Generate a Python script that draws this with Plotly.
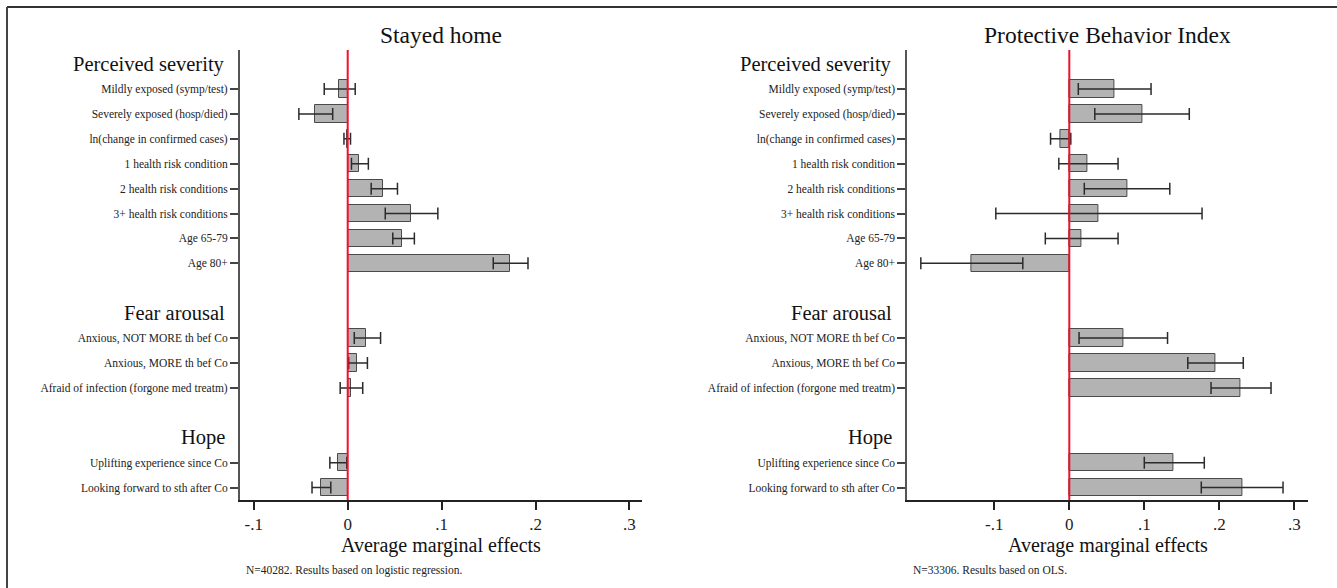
import plotly.graph_objects as go

# ---- data -------------------------------------------------------------
groups = ["Perceived severity", "Fear arousal", "Hope"]
group_items = [
    ["Mildly exposed (symp/test)", "Severely exposed (hosp/died)",
     "ln(change in confirmed cases)", "1 health risk condition",
     "2 health risk conditions", "3+ health risk conditions",
     "Age 65-79", "Age 80+"],
    ["Anxious, NOT MORE th bef Co", "Anxious, MORE th bef Co",
     "Afraid of infection (forgone med treatm)"],
    ["Uplifting experience since Co", "Looking forward to sth after Co"],
]

# Stayed home (logistic regression, average marginal effects)
home_ame = [-0.009, -0.035, -0.001, 0.012, 0.038, 0.067, 0.058, 0.173,
            0.020, 0.010, 0.004,
            -0.010, -0.028]
home_lo = [-0.025, -0.052, -0.004, 0.004, 0.025, 0.040, 0.048, 0.155,
           0.007, 0.001, -0.008,
           -0.019, -0.038]
home_hi = [0.008, -0.016, 0.003, 0.022, 0.053, 0.096, 0.071, 0.192,
           0.035, 0.021, 0.016,
           -0.001, -0.018]

# Protective Behavior Index (OLS)
pbi_ame = [0.060, 0.097, -0.012, 0.024, 0.077, 0.039, 0.016, -0.131,
           0.072, 0.195, 0.228,
           0.139, 0.231]
pbi_lo = [0.012, 0.034, -0.025, -0.014, 0.020, -0.098, -0.032, -0.198,
          0.013, 0.158, 0.189,
          0.100, 0.176]
pbi_hi = [0.109, 0.160, 0.002, 0.065, 0.134, 0.177, 0.065, -0.062,
          0.131, 0.232, 0.269,
          0.180, 0.285]

x_ticks = [-0.1, 0, 0.1, 0.2, 0.3]
x_tick_labels = ["-.1", "0", ".1", ".2", ".3"]

panels = [
    dict(title="Stayed home", ame=home_ame, lo=home_lo, hi=home_hi,
         note="N=40282. Results based on logistic regression."),
    dict(title="Protective Behavior Index", ame=pbi_ame, lo=pbi_lo, hi=pbi_hi,
         note="N=33306. Results based on OLS."),
]

# ---- row layout: header row, then items, blank row between groups -----
item_labels, item_rows, header_rows = [], [], []
row = -1
for g, items in enumerate(group_items):
    if g > 0:
        row += 1
    header_rows.append(row)
    row += 1
    for it in items:
        item_labels.append(it)
        item_rows.append(row)
        row += 1

# ---- geometry ---------------------------------------------------------
W, H = 1337, 588
FONT = "Liberation Serif"
x_domains = [(240 / W, 641.7 / W), (907.4 / W, 1307.7 / W)]
x_ranges = [(-0.1147, 0.3131), (-0.2159, 0.3179)]
y_domain = (1 - 500 / H, 1 - 50 / H)
y_range = (16.5, -1.566)

fig = go.Figure()
annotations = []
shapes = []

for i, p in enumerate(panels):
    sfx = "" if i == 0 else str(i + 1)
    xa, ya = "x" + sfx, "y" + sfx
    plus = [h - a for h, a in zip(p["hi"], p["ame"])]
    minus = [a - l for a, l in zip(p["ame"], p["lo"])]
    fig.add_trace(go.Bar(
        x=p["ame"], y=item_rows, base=0, orientation="h", width=0.7,
        marker=dict(color="#b3b3b3", line=dict(color="#4a4a4a", width=1)),
        error_x=dict(type="data", symmetric=False, array=plus,
                     arrayminus=minus, color="#2b2b2b", thickness=1.5,
                     width=6),
        xaxis=xa, yaxis=ya, showlegend=False, hoverinfo="skip",
    ))

    dom = x_domains[i]
    fig.layout["xaxis" + sfx] = dict(
        domain=dom, range=x_ranges[i], anchor=ya,
        tickmode="array", tickvals=x_ticks, ticktext=x_tick_labels,
        ticks="outside", ticklen=8, tickwidth=1.5, tickcolor="#222",
        showline=True, linecolor="#222", linewidth=1.5,
        showgrid=False, zeroline=False,
        tickfont=dict(family=FONT, size=17, color="#222"),
        ticklabelstandoff=0,
        fixedrange=True,
    )
    fig.layout["yaxis" + sfx] = dict(
        domain=y_domain, range=y_range, anchor=xa,
        tickmode="array", tickvals=item_rows, ticktext=item_labels,
        ticks="outside", ticklen=8, tickwidth=1.5, tickcolor="#444",
        showline=True, linecolor="#555", linewidth=2,
        showgrid=False, zeroline=False,
        tickfont=dict(family=FONT, size=11.5, color="#222"),
        fixedrange=True,
    )

    # zero reference line
    shapes.append(dict(type="line", xref=xa, yref=ya + " domain",
                       x0=0, x1=0, y0=0, y1=1, layer="above",
                       line=dict(color="#f0102a", width=2)))

    centre = (dom[0] + dom[1]) / 2
    annotations.append(dict(text=p["title"], xref="paper", yref="paper",
                            x=centre, y=1 - 35 / H, showarrow=False,
                            xanchor="center", yanchor="middle",
                            font=dict(family=FONT, size=23.5, color="#111")))
    annotations.append(dict(text="Average marginal effects", xref="paper",
                            yref="paper", x=centre, y=1 - 545 / H,
                            showarrow=False, xanchor="center",
                            yanchor="middle",
                            font=dict(family=FONT, size=20, color="#111")))
    annotations.append(dict(text=p["note"], xref="paper", yref="paper",
                            x=dom[0] + 4 / W, y=1 - 570 / H, showarrow=False,
                            xanchor="left", yanchor="middle",
                            font=dict(family=FONT, size=11.5, color="#222")))
    for g, hr in zip(groups, header_rows):
        annotations.append(dict(text=g, xref="paper", yref=ya,
                                x=dom[0] - 13 / W, y=hr, showarrow=False,
                                xanchor="right", yanchor="middle",
                                font=dict(family=FONT, size=20.5,
                                          color="#111")))

# outer frame (top and left edges)
shapes.append(dict(type="line", xref="paper", yref="paper",
                   x0=7 / W, x1=1, y0=1 - 7 / H, y1=1 - 7 / H,
                   line=dict(color="#333", width=2)))
shapes.append(dict(type="line", xref="paper", yref="paper",
                   x0=7 / W, x1=7 / W, y0=0, y1=1 - 7 / H,
                   line=dict(color="#444", width=2)))

fig.update_layout(
    width=W, height=H, margin=dict(l=0, r=0, t=0, b=0),
    paper_bgcolor="white", plot_bgcolor="white",
    annotations=annotations, shapes=shapes, bargap=0,
)

fig.write_html("out.html")
